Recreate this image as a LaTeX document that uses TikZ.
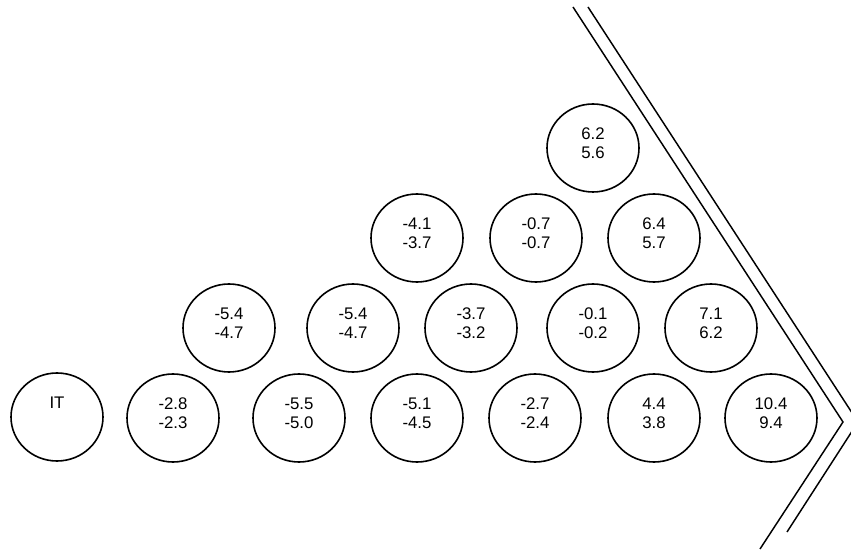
\documentclass[tikz,border=0pt]{standalone}
\usepackage{fontspec}
\setmainfont{Liberation Sans}
\usepackage{tikz}
\usetikzlibrary{shapes.geometric}

\begin{document}
\begin{tikzpicture}[
  x=0.75pt,y=-0.75pt,
  cell/.style={draw,ellipse,line width=1.2pt,minimum width=69pt,minimum height=66pt,inner sep=0pt,
    align=center,font=\fontsize{12.6}{14.3}\selectfont,text depth=7.5pt},
  wall/.style={line width=1.1pt,line join=miter}
]
\useasboundingbox (0,0) rectangle (851,552);
\clip (0,0) rectangle (851,552);
% bottom row
\node[cell] (it)  at (57,417)  {IT\\\mbox{}};
\node[cell] (b1)  at (173,418) {-2.8\\-2.3};
\node[cell] (b2)  at (299,418) {-5.5\\-5.0};
\node[cell] (b3)  at (417,418) {-5.1\\-4.5};
\node[cell] (b4)  at (535,418) {-2.7\\-2.4};
\node[cell] (b5)  at (654,418) {4.4\\3.8};
\node[cell] (b6)  at (771,418) {10.4\\9.4};
% second row
\node[cell] (m1)  at (229,328) {-5.4\\-4.7};
\node[cell] (m2)  at (353,328) {-5.4\\-4.7};
\node[cell] (m3)  at (471,328) {-3.7\\-3.2};
\node[cell] (m4)  at (593,328) {-0.1\\-0.2};
\node[cell] (m5)  at (711,328) {7.1\\6.2};
% third row
\node[cell] (u1)  at (417,238) {-4.1\\-3.7};
\node[cell] (u2)  at (536,238) {-0.7\\-0.7};
\node[cell] (u3)  at (654,238) {6.4\\5.7};
% top
\node[cell] (top) at (593,148) {6.2\\5.6};
% double wall
\coordinate (wa) at (573,7);   \coordinate (wtip) at (843,422); \coordinate (wb) at (760,549);
\coordinate (va) at (588,7);   \coordinate (vtip) at (858,422); \coordinate (vb) at (787,532);
\draw[wall] (wa)--(wtip)--(wb);
\draw[wall] (va)--(vtip)--(vb);
\end{tikzpicture}
\end{document}
